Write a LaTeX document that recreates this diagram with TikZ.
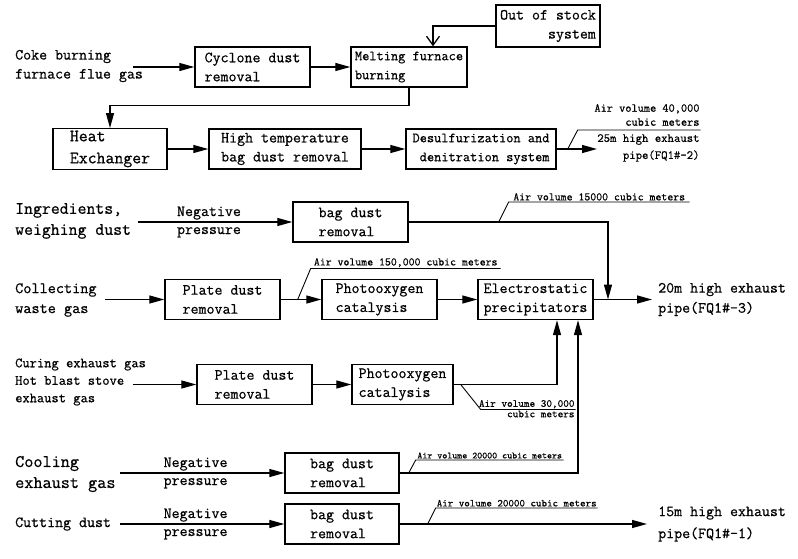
\documentclass[tikz,border=0pt]{standalone}
\usepackage{fontspec}
\setmonofont{Latin Modern Mono}[FakeBold=0.6]
\renewcommand{\familydefault}{\ttdefault}
\usepackage{tikz}
\usetikzlibrary{arrows.meta}
\usetikzlibrary{positioning}
\tikzset{>={Triangle[length=15pt,width=8pt]}}
\tikzset{
  procbox/.style={draw, line width=1.4pt, minimum width=#1, minimum height=40pt, inner sep=2pt, align=left, font=\fontsize{15.5}{19}\selectfont},
  flow/.style={line width=1.3pt},
  leader/.style={line width=0.9pt},
  srclabel/.style={inner sep=0pt, align=left, anchor=west},
  airnote/.style={inner sep=1pt, font=\fontsize{11.5}{13}\selectfont},
  pushlabel/.style={inner sep=0pt, align=left, font=\fontsize{15.5}{18}\selectfont}
}

\begin{document}
\begin{tikzpicture}[x=1pt,y=-1pt]
  \useasboundingbox (0,0) rectangle (798,559);
  % coke gas line
  \node[srclabel, font=\fontsize{15.5}{19}\selectfont] (coke) at (15,66) {Coke burning\\furnace flue gas};
  \coordinate (cokeout) at (133,67);
  \node[procbox=115pt] (cyc) at (252.5,67) {Cyclone dust\\removal};
  \node[procbox=116pt, font=\fontsize{14}{19}\selectfont] (melt) at (409,67) {Melting furnace\\burning};
  \node[procbox=104pt, minimum height=42pt, align=right] (stock) at (548,26) {Out of stock\\system};
  \node[procbox=114pt, font=\fontsize{17.3}{22}\selectfont] (heat) at (110,149) {Heat\\Exchanger};
  \node[procbox=152pt] (hot) at (285,149) {High temperature\\bag dust removal};
  \node[procbox=150pt, align=right, font=\fontsize{14}{19}\selectfont] (desul) at (481,149) {Desulfurization and\\denitration system};
  \coordinate (pipeB) at (597,149);
  \draw[flow,->] (cokeout) -- (cyc);
  \draw[flow,->] (cyc) -- (melt);
  \draw[flow,-{Straight Barb[length=9pt,width=13pt]}] (stock) -| ([xshift=24pt]melt.north);
  \draw[flow,->] (melt.south) -- ++(0,18) -| (heat.north);
  \draw[flow,->] (heat) -- (hot);
  \draw[flow,->] (hot) -- (desul);
  \draw[flow,->] (desul) -- (pipeB);
  \draw[leader] ([xshift=11pt]desul.east) -- ++(10,-19) -- ++(123,0) coordinate (noteB);
  \node[airnote, anchor=south east, align=right, yshift=3pt, font=\fontsize{12}{14}\selectfont] (airB) at (noteB) {Air volume 40,000\\cubic meters};
  \node[airnote, anchor=north east, align=right, yshift=-3pt, font=\fontsize{12.4}{17}\selectfont] (outB) at (noteB) {25m high exhaust\\pipe(FQ1\#-2)};

  % ingredients
  \node[srclabel, font=\fontsize{17.3}{21}\selectfont] (ingr) at (15,221) {Ingredients,\\weighing dust};
  \coordinate (ingrout) at (138,222);
  \node[procbox=115pt] (bagA) at (350.5,222) {bag dust\\removal};
  \coordinate (joinA) at (608,299.5);
  \draw[flow,->] (ingrout) -- node[pushlabel, pos=0.46] (negA) {Negative\\pressure} (bagA);
  \draw[flow,->] (bagA) -| (joinA);
  \draw[leader] ([xshift=90pt]bagA.east) -- ++(10,-20) -- ++(181,0) node[airnote, midway, above] (airA) {Air volume 15000 cubic meters};

  % collecting waste gas
  \node[srclabel, font=\fontsize{15.8}{20}\selectfont] (coll) at (15,300) {Collecting\\waste gas};
  \coordinate (collout) at (105,299.5);
  \node[procbox=115pt] (plateA) at (222.5,299.5) {Plate dust\\removal};
  \node[procbox=115pt] (photoA) at (379.5,299.5) {Photooxygen\\catalysis};
  \node[procbox=115pt] (esp) at (535.5,299.5) {Electrostatic\\precipitators};
  \coordinate (pipeA) at (652,299.5);
  \node[srclabel, font=\fontsize{15.5}{20}\selectfont, right=6pt of pipeA] (outA) {20m high exhaust\\pipe(FQ1\#-3)};
  \draw[flow,->] (collout) -- (plateA);
  \draw[flow,->] (plateA) -- (photoA);
  \draw[flow,->] (photoA) -- (esp);
  \draw[flow,->] (esp) -- (pipeA);
  \draw[leader] ([xshift=17pt]plateA.east) -- ++(13,-31) -- ++(190,0) node[airnote, midway, above] (airAA) {Air volume 150,000 cubic meters};

  % curing / hot blast stove
  \node[srclabel, font=\fontsize{14.1}{17.5}\selectfont] (cure) at (15,382) {Curing exhaust gas\\Hot blast stove\\exhaust gas};
  \coordinate (cureout) at (133,384.5);
  \node[procbox=115pt] (plateB) at (254.5,384.5) {Plate dust\\removal};
  \node[procbox=101pt] (photoB) at (402.5,384.5) {Photooxygen\\catalysis};
  \draw[flow,->] (cureout) -- (plateB);
  \draw[flow,->] (plateB) -- (photoB);
  \draw[flow,->] (photoB) -| ([xshift=21.5pt]esp.south);
  \draw[leader] ([xshift=7pt]photoB.east) -- ++(20,25) -- ++(95,0) coordinate (noteC);
  \node[airnote, anchor=south east, font=\fontsize{10.7}{12}\selectfont] (airC) at (noteC) {Air volume 30,000};
  \node[airnote, anchor=north east, font=\fontsize{10.7}{12}\selectfont] (airCC) at (noteC) {cubic meters};

  % cooling
  \node[srclabel, font=\fontsize{17.7}{21}\selectfont] (cool) at (15,474) {Cooling\\exhaust gas};
  \coordinate (coolout) at (120,473);
  \node[procbox=114pt] (bagB) at (342,473) {bag dust\\removal};
  \draw[flow,->] (coolout) -- node[pushlabel, pos=0.46] (negB) {Negative\\pressure} (bagB);
  \draw[flow,->] (bagB) -| ([xshift=42.5pt]esp.south);
  \draw[leader] ([xshift=9pt]bagB.east) -- ++(7,-13) -- ++(148,0) node[airnote, midway, above, font=\fontsize{9.5}{11}\selectfont] (airD) {Air volume 20000 cubic meters};

  % cutting
  \node[srclabel, font=\fontsize{15.5}{19}\selectfont] (cut) at (15,524) {Cutting dust};
  \coordinate (cutout) at (120,524);
  \node[procbox=114pt] (bagC) at (342,524) {bag dust\\removal};
  \coordinate (pipeC) at (647,524);
  \node[srclabel, font=\fontsize{15.5}{22}\selectfont, right=11pt of pipeC] (outC) {15m high exhaust\\pipe(FQ1\#-1)};
  \draw[flow,->] (cutout) -- node[pushlabel, pos=0.46] (negC) {Negative\\pressure} (bagC);
  \draw[flow,->] (bagC) -- (pipeC);
  \draw[leader] ([xshift=28pt]bagC.east) -- ++(8,-16) -- ++(162,0) node[airnote, midway, above, font=\fontsize{10.5}{12}\selectfont] (airE) {Air volume 20000 cubic meters};
\end{tikzpicture}
\end{document}
